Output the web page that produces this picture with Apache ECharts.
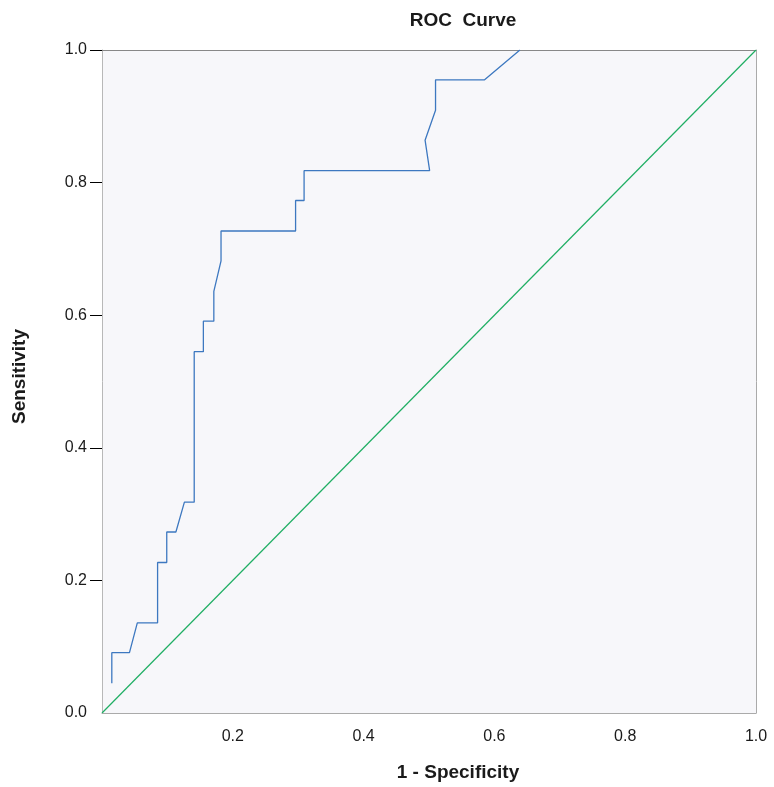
<!DOCTYPE html>
<html>
<head>
<meta charset="utf-8">
<script src="https://cdn.jsdelivr.net/npm/echarts@6/dist/echarts.min.js"></script>
<style>
html,body{margin:0;padding:0;background:#fff;}
#chart{width:774px;height:787px;}
</style>
</head>
<body>
<div id="chart"></div>
<script>
// ROC curve points (1 - Specificity, Sensitivity)
const fpr = [0.015, 0.015, 0.042, 0.054, 0.085, 0.085, 0.099, 0.099, 0.113, 0.126, 0.141, 0.141, 0.155, 0.155, 0.171, 0.171, 0.182, 0.182, 0.296, 0.296, 0.309, 0.309, 0.501, 0.494, 0.510, 0.510, 0.585, 0.639];
const tpr = [0.045, 0.091, 0.091, 0.136, 0.136, 0.227, 0.227, 0.273, 0.273, 0.318, 0.318, 0.545, 0.545, 0.591, 0.591, 0.636, 0.682, 0.727, 0.727, 0.773, 0.773, 0.818, 0.818, 0.864, 0.909, 0.955, 0.955, 1.0];
// Reference diagonal
const refX = [0, 1];
const refY = [0, 1];
// Tick labels
const xTicks = [0.2, 0.4, 0.6, 0.8, 1.0];
const yTicks = [0.0, 0.2, 0.4, 0.6, 0.8, 1.0];

const FONT = '"Liberation Sans", Arial, Helvetica, sans-serif';
const chart = echarts.init(document.getElementById('chart'), null, {renderer: 'canvas'});

const rocData = fpr.map((x, i) => [x, tpr[i]]);
const refData = refX.map((x, i) => [x, refY[i]]);

chart.setOption({
  animation: false,
  backgroundColor: '#ffffff',
  title: {
    text: 'ROC  Curve',
    left: 458,
    top: 6,
    textAlign: 'center',
    textStyle: {fontFamily: FONT, fontSize: 19, fontWeight: 'bold', color: '#1a1a1a'}
  },
  grid: {
    left: 102, right: 18, top: 50, bottom: 74,
    show: true, backgroundColor: '#f7f7fa', borderWidth: 0
  },
  xAxis: [{
    type: 'value', min: 0, max: 1, interval: 0.2, position: 'bottom',
    name: '1 - Specificity', nameLocation: 'middle', nameGap: 50,
    nameTextStyle: {fontFamily: FONT, fontSize: 19, fontWeight: 'bold', color: '#1a1a1a', padding: [0, 0, 0, 58]},
    axisLine: {show: true, onZero: false, lineStyle: {color: '#aaaaaa', width: 1}},
    axisTick: {show: false},
    splitLine: {show: false},
    axisLabel: {
      fontFamily: FONT, fontSize: 16, color: '#1a1a1a', margin: 16,
      customValues: xTicks,
      formatter: v => v.toFixed(1)
    }
  }, {
    type: 'value', min: 0, max: 1, interval: 0.2, position: 'top',
    axisLine: {show: true, onZero: false, lineStyle: {color: '#888888', width: 1}},
    axisTick: {show: false}, axisLabel: {show: false}, splitLine: {show: false}
  }],
  yAxis: [{
    type: 'value', min: 0, max: 1, interval: 0.2, position: 'left',
    name: 'Sensitivity', nameLocation: 'middle', nameGap: 73,
    nameTextStyle: {fontFamily: FONT, fontSize: 19, fontWeight: 'bold', color: '#1a1a1a', padding: [0, 0, 0, 10]},
    axisLine: {show: true, onZero: false, lineStyle: {color: '#b8b8b8', width: 1}},
    axisTick: {show: true, length: 12, lineStyle: {color: '#000000', width: 1}, customValues: [0.2, 0.4, 0.6, 0.8, 1.0]},
    splitLine: {show: false},
    axisLabel: {
      fontFamily: FONT, fontSize: 16, color: '#1a1a1a', margin: 15,
      customValues: yTicks,
      formatter: v => v.toFixed(1)
    }
  }, {
    type: 'value', min: 0, max: 1, interval: 0.2, position: 'right',
    axisLine: {show: true, onZero: false, lineStyle: {color: '#aaaaaa', width: 1}},
    axisTick: {show: false}, axisLabel: {show: false}, splitLine: {show: false}
  }],
  series: [{
    type: 'line', name: 'Reference', data: refData,
    xAxisIndex: 0, yAxisIndex: 0,
    symbol: 'none', lineStyle: {color: '#1fae63', width: 1.2}, z: 2
  }, {
    type: 'line', name: 'ROC', data: rocData,
    xAxisIndex: 0, yAxisIndex: 0,
    symbol: 'none', lineStyle: {color: '#3d78c0', width: 1.3}, z: 3
  }]
});
</script>
</body>
</html>
